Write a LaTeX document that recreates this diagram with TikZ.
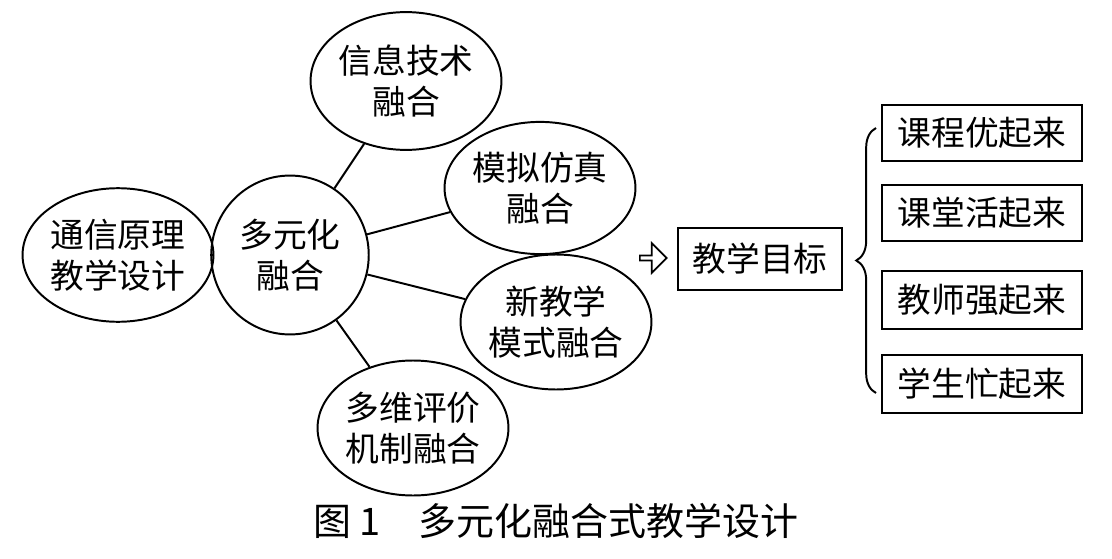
\documentclass[tikz,border=0pt]{standalone}
\usepackage{fontspec}
\setmainfont{Noto Sans CJK SC}
\usetikzlibrary{shapes.geometric,shapes.arrows,decorations.pathreplacing}
\begin{document}
\begin{tikzpicture}[x=0.025cm,y=-0.025cm,
  ell/.style={draw,line width=1.4pt,ellipse,inner sep=0pt,align=center,font=\fontsize{24}{29}\selectfont},
  bx/.style={draw,line width=1.4pt,inner sep=0pt,font=\fontsize{24}{29}\selectfont},
  ln/.style={line width=1.4pt}]
\useasboundingbox (0,0) rectangle (1112,559);
\node[ell,minimum width=125pt,minimum height=95pt] (a) at (118,255) {通信原理\\教学设计};
\node[ell,minimum width=112pt,minimum height=113pt] (b) at (290,255) {多元化\\融合};
\node[ell,minimum width=122pt,minimum height=98pt] (c) at (406,81) {信息技术\\融合};
\node[ell,minimum width=119pt,minimum height=94pt] (d) at (540,188) {模拟仿真\\融合};
\node[ell,minimum width=118pt,minimum height=96pt] (e) at (556,322) {新教学\\模式融合};
\node[ell,minimum width=116pt,minimum height=96pt] (f) at (413,428) {多维评价\\机制融合};
\draw[ln] (a) -- (b);
\draw[ln] (b) -- (c);
\draw[ln] (b) -- (d);
\draw[ln] (b) -- (e);
\draw[ln] (b) -- (f);
\node[single arrow,draw,line width=1.2pt,minimum width=21pt,single arrow head extend=3pt,minimum height=19pt,inner sep=0pt] (ar) at (652,258) {};
\node[bx,minimum width=116pt,minimum height=44pt] (g) at (760,259) {教学目标};
\node[bx,minimum width=142pt,minimum height=40pt] (h1) at (982,133) {课程优起来};
\node[bx,minimum width=142pt,minimum height=40pt] (h2) at (982,213) {课堂活起来};
\node[bx,minimum width=142pt,minimum height=41pt] (h3) at (982,300) {教师强起来};
\node[bx,minimum width=142pt,minimum height=41pt] (h4) at (982,384) {学生忙起来};
\coordinate (bt) at (876,393);
\coordinate (bb) at (876,128);
\draw[ln,decorate,decoration={brace,amplitude=14pt}] (bt) -- (bb);
\node[font=\fontsize{27}{31}\selectfont] (cap) at (556,521) {图 1\hspace{1em}多元化融合式教学设计};
\end{tikzpicture}
\end{document}
